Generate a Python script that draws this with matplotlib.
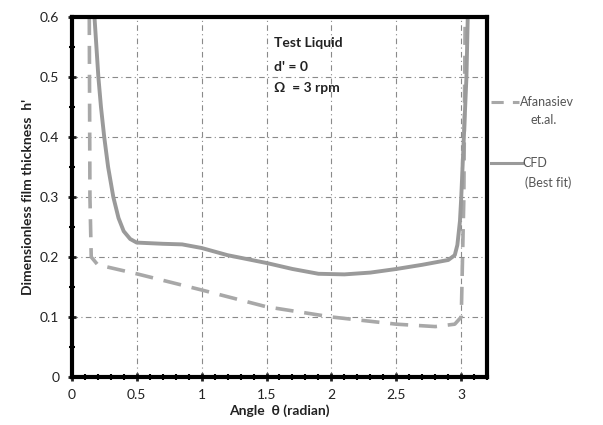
import matplotlib
matplotlib.use("Agg")
import matplotlib.pyplot as plt
from matplotlib.ticker import MultipleLocator

plt.rcParams['font.family'] = ['Lato', 'DejaVu Sans']

# CFD (best fit) curve
cfd_theta = [0.175, 0.19, 0.205, 0.225, 0.25, 0.28, 0.32, 0.36, 0.4, 0.45, 0.5, 0.7,
             0.85, 1.0, 1.2, 1.5, 1.7, 1.9, 2.1, 2.3, 2.5, 2.7, 2.9, 2.95, 2.97,
             2.99, 3.0, 3.02, 3.04, 3.05]
cfd_h = [0.6, 0.55, 0.5, 0.45, 0.4, 0.35, 0.3, 0.265, 0.243, 0.23, 0.224, 0.222,
         0.221, 0.215, 0.203, 0.19, 0.18, 0.172, 0.171, 0.174, 0.18, 0.187, 0.195,
         0.203, 0.22, 0.26, 0.3, 0.4, 0.5, 0.6]

# Afanasiev et al.
afa_theta = [0.135, 0.14, 0.15, 0.2, 0.5, 1.0, 1.5, 2.0, 2.5, 2.8, 2.95, 3.0, 3.02, 3.03]
afa_h = [0.6, 0.3, 0.2, 0.187, 0.172, 0.145, 0.117, 0.1, 0.088, 0.084, 0.088, 0.1, 0.3, 0.6]

fig = plt.figure(figsize=(6.03, 4.25), dpi=100)
ax = fig.add_axes([0.119, 0.113, 0.689, 0.847])

ax.plot(afa_theta, afa_h, color='#a8a8a8', lw=2.6, dashes=(5, 3))
ax.plot(cfd_theta, cfd_h, color='#9a9a9a', lw=2.8)

ax.set_xlim(0, 3.2)
ax.set_ylim(0, 0.6)
ax.set_xticks([0, 0.5, 1, 1.5, 2, 2.5, 3])
ax.set_xticklabels(['0', '0.5', '1', '1.5', '2', '2.5', '3'])
ax.set_yticks([0, 0.1, 0.2, 0.3, 0.4, 0.5, 0.6])
ax.set_yticklabels(['0', '0.1', '0.2', '0.3', '0.4', '0.5', '0.6'])
ax.xaxis.set_minor_locator(MultipleLocator(0.1))
ax.yaxis.set_minor_locator(MultipleLocator(0.05))
ax.tick_params(which='major', direction='inout', length=6, width=2, labelsize=10,
               colors='#222222', pad=6)
ax.tick_params(which='minor', direction='inout', length=4, width=1.5)

ax.grid(True, which='major', color='#8a8a8a', lw=0.8, linestyle=(0, (5, 3, 1, 3)))
for s in ax.spines.values():
    s.set_linewidth(3)
    s.set_color('black')

ax.set_xlabel("Angle  \u03b8 (radian)", fontsize=10, fontweight='bold', labelpad=2,
              color='#222222')
ax.set_ylabel("Dimensionless film thickness  h'", fontsize=10, fontweight='bold',
              color='#222222')

ax.text(1.56, 0.55, "Test Liquid", fontsize=10, fontweight='bold', color='#222222')
ax.text(1.56, 0.51, "d' = 0", fontsize=10, fontweight='bold', color='#222222')
ax.text(1.56, 0.475, "\u03a9  = 3 rpm", fontsize=10, fontweight='bold', color='#222222')

# legend drawn outside the axes
fig.add_artist(plt.Line2D([0.815, 0.86], [0.76, 0.76], color='#a8a8a8', lw=2.2,
                          dashes=(4, 3)))
fig.text(0.863, 0.76, "Afanasiev", fontsize=9, color='#555555', va='center')
fig.text(0.88, 0.717, "et.al.", fontsize=9, color='#555555', va='center')
fig.add_artist(plt.Line2D([0.815, 0.865], [0.617, 0.617], color='#9a9a9a', lw=2.2))
fig.text(0.867, 0.617, "CFD", fontsize=9, color='#555555', va='center')
fig.text(0.87, 0.57, "(Best fit)", fontsize=9, color='#555555', va='center')

fig.savefig("out.png", dpi=100)
